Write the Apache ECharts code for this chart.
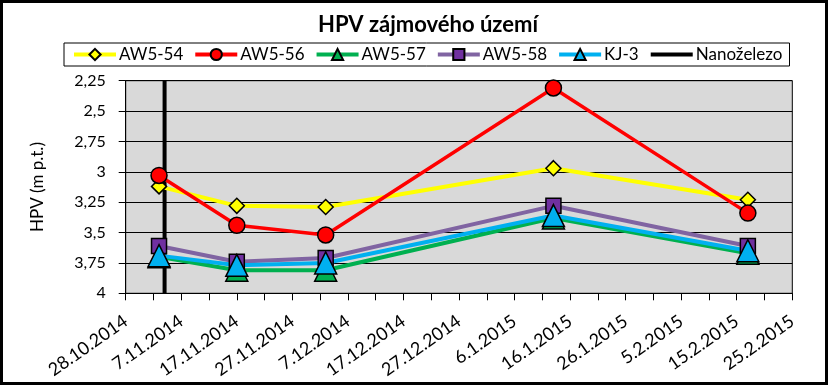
<!DOCTYPE html>
<html>
<head>
<meta charset="utf-8">
<script src="https://cdn.jsdelivr.net/npm/echarts@6/dist/echarts.min.js"></script>
<style>
html,body{margin:0;padding:0;background:#fff;}
#c{width:828px;height:385px;}
</style>
</head>
<body>
<div id="c"></div>
<script>
const titleText = 'HPV zájmového území';
const yAxisName = 'HPV (m p.t.)';
const startDate = '28.10.2014';
const endDate = '25.2.2015';
const dates = ['3.11.2014', '17.11.2014', '3.12.2014', '13.1.2015', '17.2.2015'];
const aw554 = [3.12, 3.28, 3.29, 2.97, 3.23];
const aw556 = [3.03, 3.44, 3.52, 2.31, 3.34];
const aw557 = [3.70, 3.81, 3.81, 3.38, 3.67];
const aw558 = [3.61, 3.74, 3.71, 3.28, 3.61];
const kj3   = [3.69, 3.77, 3.75, 3.36, 3.65];
const nanoDate = '4.11.2014';
const nanoRange = [2.25, 4];
const yMin = 2.25, yMax = 4, yStep = 0.25;

function parseD(s){ const p = s.split('.').map(Number); return Date.UTC(p[2], p[1]-1, p[0]); }
const base = parseD(startDate);
const DAY = 86400000;
function off(s){ return Math.round((parseD(s) - base) / DAY); }
const xMax = off(endDate);
function fmtDate(v){
  const d = new Date(base + v*DAY);
  return d.getUTCDate() + '.' + (d.getUTCMonth()+1) + '.' + d.getUTCFullYear();
}
function pts(vals){ return dates.map((d,i)=>[off(d), vals[i]]); }

const FONT = 'Lato';
const chart = echarts.init(document.getElementById('c'), null, {renderer:'canvas'});
function mk(name, vals, color, lineColor, symbol, size, lw){
  return {
    name, type:'line', data: pts(vals), symbol, symbolSize:size,
    itemStyle:{color, borderColor:'#000', borderWidth:1.5},
    lineStyle:{color: lineColor, width: lw},
    emphasis:{disabled:true}, z: 3, animation:false
  };
}
chart.setOption({
  animation:false,
  title:{text:titleText, left:423, textAlign:'center', top:9, itemGap:0,
    textStyle:{fontFamily:FONT, fontSize:22, fontWeight:'bold', color:'#000'}},
  graphic:[{type:'rect', shape:{x:1.5,y:1.5,width:825,height:382}, style:{fill:null, stroke:'#000', lineWidth:3}, silent:true, z:100}],
  legend:{
    top:43, left:64, width:760,
    borderColor:'#000', borderWidth:1, padding:[3,7,3,8],
    itemWidth:42, itemHeight:14, itemGap:10,
    lineStyle:{width:4},
    textStyle:{fontFamily:FONT, fontSize:17, color:'#000', padding:[0,0,0,-2]},
    data:['AW5-54','AW5-56','AW5-57','AW5-58','KJ-3',
      {name:'Nanoželezo', itemStyle:{color:'rgba(0,0,0,0)', borderWidth:0, opacity:0}}]
  },
  grid:{left:125.7, right:35.7, top:80.7, bottom:91.7, show:true, backgroundColor:'#D9D9D9', borderColor:'#000', borderWidth:1},
  xAxis:{
    type:'value', min:0, max:xMax, interval:5,
    axisLine:{onZero:false, lineStyle:{color:'#000', width:1}},
    axisTick:{show:true, length:7, lineStyle:{color:'#000'}},
    splitLine:{show:false},
    axisLabel:{rotate:35, margin:26, fontFamily:FONT, fontSize:18, color:'#000',
      formatter:(v)=> (v % 10 === 0 ? fmtDate(v) : '')}
  },
  yAxis:{
    type:'value', inverse:true, min:yMin, max:yMax, interval:yStep,
    name:yAxisName, nameLocation:'middle', nameGap:80,
    nameTextStyle:{fontFamily:FONT, fontSize:17, color:'#000'},
    axisLine:{show:true, lineStyle:{color:'#000', width:1}},
    axisTick:{show:true, length:7, lineStyle:{color:'#000'}},
    splitLine:{show:true, lineStyle:{color:'#000', width:1}},
    axisLabel:{margin:20, fontFamily:FONT, fontSize:16, color:'#000',
      formatter:(v)=> String(+v.toFixed(2)).replace('.', ',')}
  },
  series:[
    mk('AW5-54', aw554, '#FFFF00', '#FFFF00', 'diamond', 15, 4),
    mk('AW5-56', aw556, '#FF0000', '#FF0000', 'circle', 16, 3.5),
    mk('AW5-57', aw557, '#00B050', '#00B050', 'triangle', 22, 4),
    mk('AW5-58', aw558, '#7030A0', '#8064A2', 'rect', 15, 4),
    mk('KJ-3', kj3, '#00B0F0', '#00B0F0', 'triangle', 22, 4),
    {name:'Nanoželezo', type:'line', data:nanoRange.map(v=>[off(nanoDate), v]), symbol:'none',
     itemStyle:{color:'#000'}, lineStyle:{color:'#000', width:4}, z:2, emphasis:{disabled:true}}
  ]
});
</script>
</body>
</html>
